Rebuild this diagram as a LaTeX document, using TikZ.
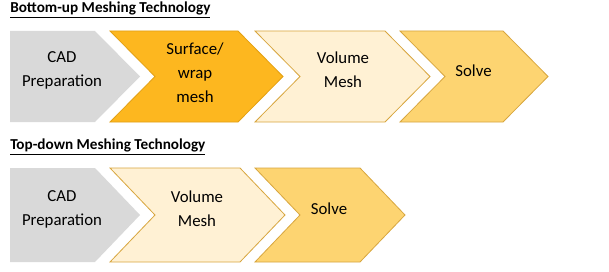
\documentclass[tikz,border=0pt]{standalone}
\usepackage{fontspec}
\setmainfont{Carlito}
\definecolor{cadgray}{HTML}{D9D9D9}
\definecolor{surforange}{HTML}{FDB71F}
\definecolor{surfborder}{HTML}{E3A014}
\definecolor{volfill}{HTML}{FFF1D4}
\definecolor{solvefill}{HTML}{FDD471}
\definecolor{goldborder}{HTML}{D8A63E}
\begin{document}
\begin{tikzpicture}[x=0.75pt,y=-0.75pt,
  title/.style={anchor=west,inner sep=0pt,font=\fontsize{11.4}{13}\selectfont\bfseries},
  label/.style={align=center,inner sep=0pt,font=\fontsize{12.6}{18}\selectfont},
  cadshape/.style={fill=cadgray},
  surfshape/.style={fill=surforange,draw=surfborder,line width=0.6pt},
  volshape/.style={fill=volfill,draw=goldborder,line width=0.6pt},
  solveshape/.style={fill=solvefill,draw=goldborder,line width=0.6pt}]
\useasboundingbox (0,0) rectangle (609,271);
\fill[white] (0,0) rectangle (609,271);
% titles
\node[title] (t1) at (10,10) {\underline{Bottom-up Meshing Technology}};
\node[title] (t2) at (10,147) {\underline{Top-down Meshing Technology}};
% row 1 shapes
\path[cadshape] (10,31) -- (95,31) -- (140,76.5) -- (95,122) -- (10,122) -- cycle;
\path[surfshape] (110,31) -- (238,31) -- (283,76.5) -- (238,122) -- (110,122) -- (155,76.5) -- cycle;
\path[volshape] (255,31) -- (385,31) -- (430,76.5) -- (385,122) -- (255,122) -- (300,76.5) -- cycle;
\path[solveshape] (400,31) -- (503,31) -- (548,76.5) -- (503,122) -- (400,122) -- (445,76.5) -- cycle;
% row 1 labels
\node[label] (cad1) at (62,70) {CAD\\Preparation};
\node[label] (surf1) at (195,72.5) {Surface/\\wrap\\mesh};
\node[label] (vol1) at (343,70) {Volume\\Mesh};
\node[label] (solve1) at (473.5,71) {Solve};
% row 2 shapes
\path[cadshape] (10,168) -- (95,168) -- (140,215) -- (95,262) -- (10,262) -- cycle;
\path[volshape] (110,168) -- (240,168) -- (285,215) -- (240,262) -- (110,262) -- (155,215) -- cycle;
\path[solveshape] (255,168) -- (360,168) -- (405,215) -- (360,262) -- (255,262) -- (300,215) -- cycle;
% row 2 labels
\node[label] (cad2) at (62,209) {CAD\\Preparation};
\node[label] (vol2) at (197,209) {Volume\\Mesh};
\node[label] (solve2) at (329,209) {Solve};
\end{tikzpicture}
\end{document}
